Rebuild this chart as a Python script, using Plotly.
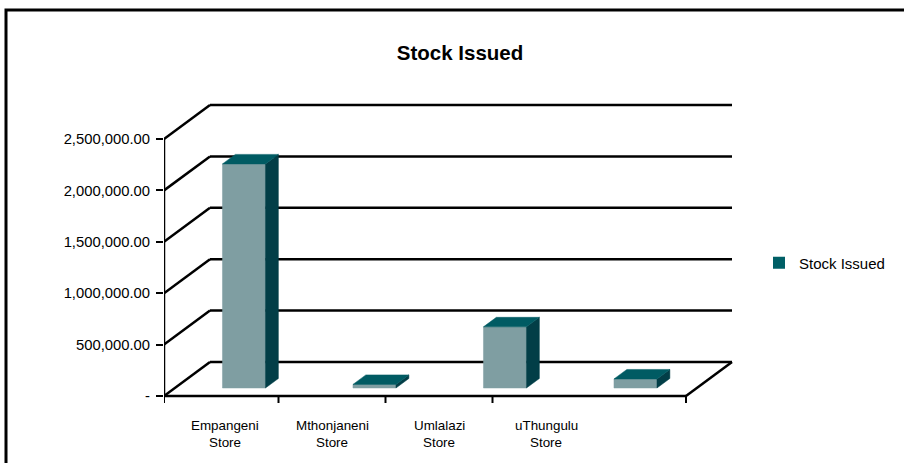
import plotly.graph_objects as go

# ---- data -------------------------------------------------------------
categories = ["Empangeni Store", "Mthonjaneni Store", "Umlalazi Store", "uThungulu Store"]
stock_issued = [2180000, 35000, 595000, 88000]
y_tick_values = [0, 500000, 1000000, 1500000, 2000000, 2500000]
y_tick_labels = ["-", "500,000.00", "1,000,000.00", "1,500,000.00", "2,000,000.00", "2,500,000.00"]
series_name = "Stock Issued"

# ---- geometry of the pseudo-3D box ----------------------------------
W, H = 904, 463
ML, MR, MT, MB = 164, 164, 100, 55
PLOT_W = W - ML - MR
PLOT_H = H - MT - MB
SLOT_PX = 130.5                  # width of one category slot on the front edge
PX_PER_VALUE = 51.4 / 500000     # vertical scale
FLOOR_PX = 396                   # pixel row of value 0 on the front edge

def vlen(px):
    """Vertical pixel length expressed in value units."""
    return px / PX_PER_VALUE

def xpos(px):
    """Horizontal pixel position expressed in slot units."""
    return (px - ML) / SLOT_PX

N = len(categories)
DX = 46 / SLOT_PX                # depth offset of the back wall
DY = vlen(34)
BAR_W = 43 / SLOT_PX
F_FRONT = 0.235                  # depth fraction of a bar's front face
F_DEPTH = 0.28                   # depth fraction taken by a bar

X_RANGE = [0, PLOT_W / SLOT_PX]
Y_RANGE = [-vlen(MT + PLOT_H - FLOOR_PX), vlen(FLOOR_PX - MT)]

FONT = "Liberation Sans, Arial, Helvetica, sans-serif"
C_FRONT = "#7f9ea2"
C_SIDE = "#023e47"
C_TOP = "#005b63"
C_KEY = "#005f66"

fig = go.Figure()

# ---- bars as three faces each ------------------------------------------
ddx = F_DEPTH * DX
ddy = F_DEPTH * DY
for i, v in enumerate(stock_issued):
    xc = i + 0.53
    x0 = xc - BAR_W / 2 + F_FRONT * DX
    x1 = x0 + BAR_W
    y0 = F_FRONT * DY
    y1 = y0 + v
    faces = [
        ([x0, x1, x1, x0, x0], [y0, y0, y1, y1, y0], C_FRONT),
        ([x1, x1 + ddx, x1 + ddx, x1, x1], [y0, y0 + ddy, y1 + ddy, y1, y0], C_SIDE),
        ([x0, x1, x1 + ddx, x0 + ddx, x0], [y1, y1, y1 + ddy, y1 + ddy, y1], C_TOP),
    ]
    for fx, fy, col in faces:
        fig.add_trace(go.Scatter(
            x=fx, y=fy, mode="lines", fill="toself", fillcolor=col,
            line=dict(color=col, width=0.5), showlegend=False, hoverinfo="skip",
        ))

# legend key for the series
fig.add_trace(go.Bar(x=[None], y=[None], name=series_name,
                     marker=dict(color=C_KEY, line=dict(width=0)), showlegend=True))

# ---- walls, floor and gridlines ----------------------------------------
LINE = dict(color="black", width=2.5)
shapes = []
for v in y_tick_values:
    shapes.append(dict(type="line", xref="x", yref="y", x0=0, y0=v, x1=DX, y1=v + DY,
                       line=LINE, layer="below"))
    shapes.append(dict(type="line", xref="x", yref="y", x0=DX, y0=v + DY, x1=N + DX, y1=v + DY,
                       line=LINE, layer="below"))
shapes.append(dict(type="line", xref="x", yref="y", x0=0, y0=0, x1=N, y1=0, line=LINE, layer="below"))
shapes.append(dict(type="line", xref="x", yref="y", x0=N, y0=0, x1=N + DX, y1=DY, line=LINE, layer="below"))
shapes.append(dict(type="line", xref="x", yref="y", x0=0, y0=0, x1=0, y1=y_tick_values[-1],
                   line=LINE, layer="below"))

# category tick marks and labels along the front edge
LABEL_FIRST_PX = 225
LABEL_STEP_PX = 107
label_px = [LABEL_FIRST_PX + LABEL_STEP_PX * i for i in range(N)]
tick_px = [ML] + [p + LABEL_STEP_PX / 2 for p in label_px[:-1]] + [ML + N * SLOT_PX]
for p in tick_px:
    shapes.append(dict(type="line", xref="x", yref="y", x0=xpos(p), y0=0, x1=xpos(p), y1=-vlen(7),
                       line=dict(color="black", width=2), layer="below"))

def paper_y(py):
    return (MT + PLOT_H - py) / PLOT_H

annotations = []
for p, name in zip(label_px, categories):
    first, second = name.rsplit(" ", 1)
    for text, py in ((first, 425), (second, 442)):
        annotations.append(dict(x=xpos(p), y=paper_y(py), xref="x", yref="paper", text=text,
                                showarrow=False, xanchor="center", yanchor="middle",
                                font=dict(family=FONT, size=13.4, color="black")))

# outer frame of the chart
shapes.append(dict(type="rect", xref="paper", yref="paper",
                   x0=(6 - ML) / PLOT_W, x1=(912 - ML) / PLOT_W,
                   y0=paper_y(470), y1=paper_y(10),
                   line=dict(color="black", width=3), fillcolor="rgba(0,0,0,0)"))

fig.update_layout(
    width=W, height=H,
    margin=dict(l=ML, r=MR, t=MT, b=MB, autoexpand=False),
    paper_bgcolor="white", plot_bgcolor="rgba(0,0,0,0)",
    title=dict(text="<b>Stock Issued</b>", x=460 / W, xanchor="center",
               y=1 - 53 / H, yanchor="middle", yref="container",
               font=dict(family=FONT, size=20.5, color="black")),
    xaxis=dict(range=X_RANGE, visible=False, fixedrange=True),
    yaxis=dict(range=Y_RANGE, tickvals=y_tick_values, ticktext=y_tick_labels,
               ticks="outside", ticklen=7, tickwidth=2, tickcolor="black",
               showline=False, showgrid=False, zeroline=False,
               tickfont=dict(family=FONT, size=14.8, color="black"),
               ticklabelstandoff=3, fixedrange=True),
    showlegend=True,
    legend=dict(x=(759 - ML) / PLOT_W, y=paper_y(263), xanchor="left", yanchor="middle",
                bgcolor="rgba(0,0,0,0)", font=dict(family=FONT, size=15, color="black")),
    shapes=shapes,
    annotations=annotations,
)

fig.write_html("out.html")
